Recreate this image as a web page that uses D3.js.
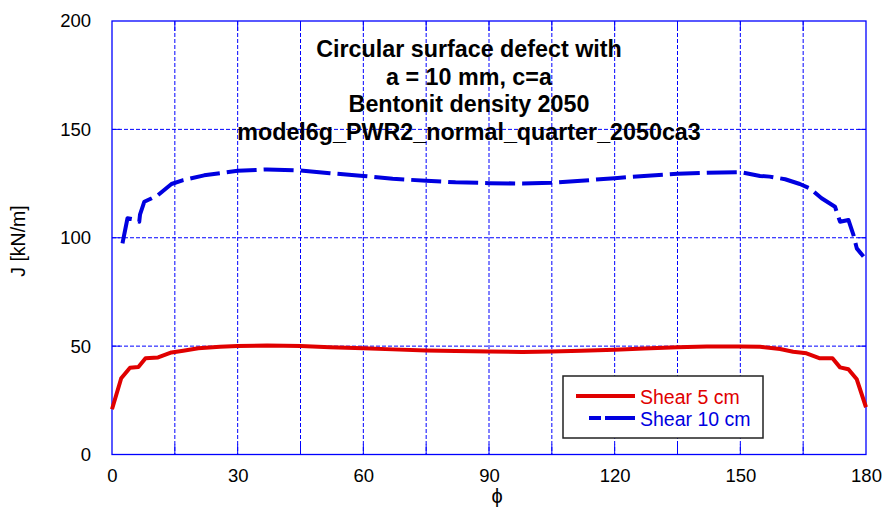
<!DOCTYPE html>
<html>
<head>
<meta charset="utf-8">
<script src="https://cdn.jsdelivr.net/npm/d3@7"></script>
<style>
  html, body { margin: 0; padding: 0; background: #fff; }
  svg { display: block; font-family: "Liberation Sans", Arial, sans-serif; }
</style>
</head>
<body>
<svg id="chart" width="886" height="508"></svg>
<script>
// J-integral along the crack front, angle phi in degrees
const shear5Phi = [0, 2.2, 4.3, 6.3, 8.0, 11, 14.2, 17, 20.6, 25.8, 30, 37, 45, 52, 60, 67, 75, 82, 90, 98, 105, 112, 120, 127, 135, 142, 150, 154.7, 159.5, 162.6, 165.8, 169, 172, 173.8, 175.8, 177.8, 180];
const shear5J   = [20.9, 35.2, 40.0, 40.4, 44.4, 44.8, 47.1, 47.9, 49.0, 49.7, 50.1, 50.3, 50.1, 49.5, 49.0, 48.5, 48.0, 47.7, 47.5, 47.3, 47.5, 47.9, 48.3, 48.9, 49.5, 49.8, 49.8, 49.7, 48.7, 47.4, 46.7, 44.4, 44.4, 40.2, 39.3, 34.7, 21.8];

const shear10Phi = [2.5, 3.7, 5.1, 6.5, 6.7, 7.7, 9.5, 11, 14.2, 17, 22, 30, 37, 45, 52, 60, 67, 75, 82, 90, 98, 105, 112, 120, 127, 135, 142, 150, 154.7, 157, 160.7, 164.2, 166.6, 169.4, 172.6, 173.8, 175.8, 177, 177.8, 179.4];
const shear10J   = [97.4, 109, 108.5, 107.4, 110.8, 116.6, 118.2, 119.7, 124.8, 126.6, 128.8, 130.9, 131.5, 131.0, 129.8, 128.5, 127.2, 126.3, 125.6, 125.2, 125.0, 125.4, 126.3, 127.5, 128.5, 129.5, 130.0, 130.3, 128.5, 128.2, 127.0, 124.8, 122.8, 118.2, 114.3, 107.4, 108.2, 101.3, 95.1, 91.3];

const xTicks = [0, 30, 60, 90, 120, 150, 180];
const xGrid  = [15, 30, 45, 60, 75, 90, 105, 120, 135, 150, 165];
const yTicks = [0, 50, 100, 150, 200];
const yGrid  = [50, 100, 150];

const titleLines = ["Circular surface defect with", "a = 10 mm, c=a", "Bentonit density 2050", "model6g_PWR2_normal_quarter_2050ca3"];
const seriesNames = ["Shear 5 cm", "Shear 10 cm"];

const svg = d3.select("#chart");
const plotL = 112, plotR = 866, plotT = 21, plotB = 454.5;
const x = d3.scaleLinear().domain([0, 180]).range([plotL, plotR]);
const y = d3.scaleLinear().domain([0, 200]).range([plotB, plotT]);

const blue = "#0000ff";

// dashed grid
const grid = svg.append("g").attr("stroke", blue).attr("stroke-width", 1).attr("stroke-dasharray", "4,2");
grid.selectAll("line.v").data(xGrid).join("line").attr("class", "v")
  .attr("x1", d => x(d)).attr("x2", d => x(d)).attr("y1", plotT).attr("y2", plotB);
grid.selectAll("line.h").data(yGrid).join("line").attr("class", "h")
  .attr("y1", d => y(d)).attr("y2", d => y(d)).attr("x1", plotL).attr("x2", plotR);

// inward ticks on all four sides
const tickG = svg.append("g").attr("stroke", blue).attr("stroke-width", 1);
tickG.selectAll("line.b").data(xGrid).join("line").attr("class", "b")
  .attr("x1", d => x(d)).attr("x2", d => x(d)).attr("y1", plotB).attr("y2", plotB - 10);
tickG.selectAll("line.t").data(xGrid).join("line").attr("class", "t")
  .attr("x1", d => x(d)).attr("x2", d => x(d)).attr("y1", plotT).attr("y2", plotT + 10);
tickG.selectAll("line.l").data(yGrid).join("line").attr("class", "l")
  .attr("y1", d => y(d)).attr("y2", d => y(d)).attr("x1", plotL).attr("x2", plotL + 8);
tickG.selectAll("line.r").data(yGrid).join("line").attr("class", "r")
  .attr("y1", d => y(d)).attr("y2", d => y(d)).attr("x1", plotR).attr("x2", plotR - 8);

// plot frame
svg.append("rect").attr("x", plotL).attr("y", plotT)
  .attr("width", plotR - plotL).attr("height", plotB - plotT)
  .attr("fill", "none").attr("stroke", blue).attr("stroke-width", 1.3);

// tick labels from d3 axes (domain and tick lines removed)
const xAxis = svg.append("g").attr("transform", `translate(0,${plotB})`)
  .call(d3.axisBottom(x).tickValues(xTicks).tickSize(0).tickPadding(14));
const yAxis = svg.append("g").attr("transform", `translate(${plotL},0)`)
  .call(d3.axisLeft(y).tickValues(yTicks).tickSize(0).tickPadding(21));
[xAxis, yAxis].forEach(a => {
  a.select(".domain").remove();
  a.selectAll("text").attr("font-size", 18.5).attr("fill", "#000")
    .attr("font-family", "Liberation Sans, Arial, sans-serif");
});

svg.append("text").attr("x", 497).attr("y", 503).attr("text-anchor", "middle")
  .attr("font-size", 20).text("ϕ");
svg.append("text").attr("transform", "translate(25,241) rotate(-90)")
  .attr("text-anchor", "middle").attr("font-size", 19.5).text("J [kN/m]");

// title
svg.append("g").selectAll("text").data(titleLines).join("text")
  .attr("x", 469).attr("y", (d, i) => 57 + i * 27.7)
  .attr("text-anchor", "middle").attr("font-weight", "bold").attr("font-size", 23.3)
  .text(d => d);

// curves
const line = d3.line().x(d => x(d[0])).y(d => y(d[1]));
const red = "#e00000", dblue = "#0000e0";
svg.append("path").datum(d3.zip(shear5Phi, shear5J))
  .attr("d", line).attr("fill", "none").attr("stroke", red)
  .attr("stroke-width", 4).attr("stroke-linejoin", "round");
svg.append("path").datum(d3.zip(shear10Phi, shear10J))
  .attr("d", line).attr("fill", "none").attr("stroke", dblue)
  .attr("stroke-width", 4).attr("stroke-linejoin", "round")
  .attr("stroke-dasharray", "30,7");

// legend
const lg = svg.append("g");
lg.append("rect").attr("x", 563).attr("y", 376).attr("width", 200).attr("height", 62)
  .attr("fill", "#fff").attr("stroke", "#222").attr("stroke-width", 1.5);
lg.append("line").attr("x1", 576).attr("x2", 635).attr("y1", 396).attr("y2", 396)
  .attr("stroke", red).attr("stroke-width", 4);
lg.append("line").attr("x1", 635).attr("x2", 589).attr("y1", 418).attr("y2", 418)
  .attr("stroke", dblue).attr("stroke-width", 4).attr("stroke-dasharray", "30,4");
lg.selectAll("text").data(seriesNames).join("text")
  .attr("x", 640).attr("y", (d, i) => 404 + i * 22)
  .attr("font-size", 19.5).attr("fill", (d, i) => i ? dblue : red).text(d => d);
</script>
</body>
</html>
